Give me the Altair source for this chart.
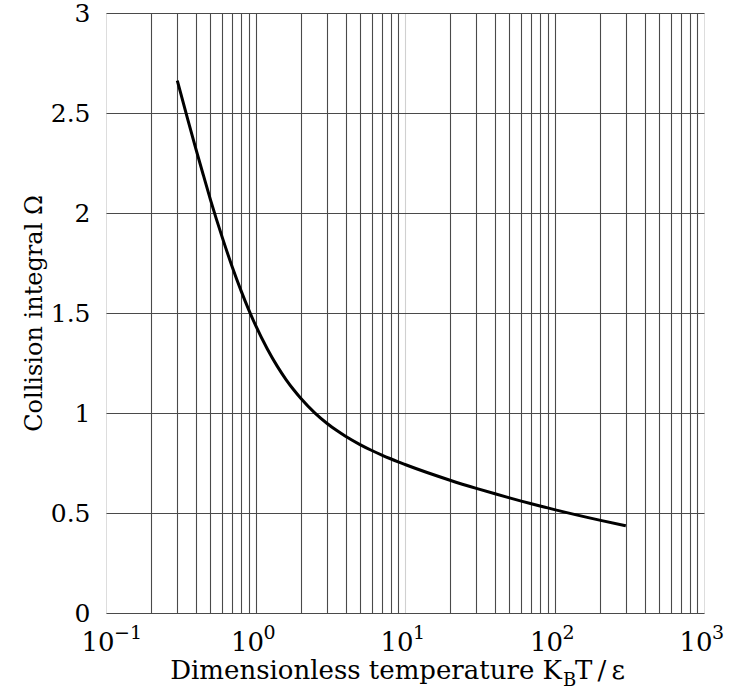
import altair as alt
import pandas as pd

# Curve values
temps = [0.3, 0.35, 0.4, 0.45, 0.5, 0.6, 0.7, 0.8, 0.9, 1.0, 1.2, 1.4, 1.6, 1.8, 2.0,
         2.5, 3, 3.5, 4, 5, 6, 7, 8, 9, 10, 20, 30, 40, 50, 60, 70, 80, 90, 100, 200, 300]
omega = [2.662, 2.476, 2.318, 2.184, 2.066, 1.877, 1.729, 1.612, 1.517, 1.439, 1.320,
         1.233, 1.167, 1.116, 1.075, 0.9996, 0.949, 0.912, 0.8836, 0.8422, 0.8124,
         0.7896, 0.7712, 0.7556, 0.7424, 0.664, 0.6232, 0.596, 0.5756, 0.5596, 0.5464,
         0.5352, 0.5256, 0.517, 0.4644, 0.436]

# Tick labels
decade_values = [0.1, 1, 10, 100, 1000]
decade_base = ["10", "10", "10", "10", "10"]
decade_exp = ["\u22121", "0", "1", "2", "3"]
y_ticks = [0, 0.5, 1, 1.5, 2, 2.5, 3]
grid_x = [k * d for d in [0.1, 1, 10, 100] for k in range(1, 10)][1:]

x_title_parts = ["Dimensionless temperature K", "B", "T\u2009/\u2009\u03b5"]
y_title = "Collision integral \u03a9"

W, H = 598, 600
FONT = "'DejaVu Serif', serif"

xscale = alt.Scale(type="log", domain=[0.1, 1000], nice=False)
yscale = alt.Scale(domain=[0, 3], nice=False)

curve_df = pd.DataFrame({"T": temps, "O": omega})
lab_df = pd.DataFrame({"v": decade_values, "b": decade_base, "e": decade_exp})

curve = alt.Chart(curve_df).mark_line(color="black", strokeWidth=3, interpolate="monotone").encode(
    x=alt.X("T:Q", scale=xscale,
            axis=alt.Axis(values=grid_x, labels=False, ticks=False, domain=False, title=None,
                          grid=True,
                          gridColor={"condition": {"test": "datum.value == 10", "value": "#d0d0d0"},
                                     "value": "#4a4a4a"},
                          gridWidth=1.1, gridOpacity=1)),
    y=alt.Y("O:Q", scale=yscale,
            axis=alt.Axis(values=y_ticks, format="~g", ticks=False, domain=False,
                          grid=True, gridColor="#4a4a4a", gridWidth=1.1, gridOpacity=1,
                          labelFont=FONT, labelFontSize=25, labelColor="black",
                          labelPadding=16, title=y_title, titleFont=FONT,
                          titleFontSize=24, titleFontWeight="normal", titleColor="black",
                          titlePadding=4)),
)

base_lab = alt.Chart(lab_df).mark_text(font=FONT, fontSize=26, baseline="alphabetic",
                                        align="center", dx=-8, color="black").encode(
    x=alt.X("v:Q", scale=xscale), y=alt.value(H + 38), text="b:N")
exp_lab = alt.Chart(lab_df).mark_text(font=FONT, fontSize=19, baseline="alphabetic",
                                       align="left", dx=8, color="black").encode(
    x=alt.X("v:Q", scale=xscale), y=alt.value(H + 26), text="e:N")

t_df = pd.DataFrame({"t": x_title_parts})
t1 = alt.Chart(t_df.iloc[[0]]).mark_text(font=FONT, fontSize=26, align="right",
                                         baseline="alphabetic", color="black").encode(
    x=alt.value(456), y=alt.value(666), text="t:N")
t2 = alt.Chart(t_df.iloc[[1]]).mark_text(font=FONT, fontSize=18, align="left",
                                         baseline="alphabetic", color="black").encode(
    x=alt.value(457), y=alt.value(673), text="t:N")
t3 = alt.Chart(t_df.iloc[[2]]).mark_text(font=FONT, fontSize=26, align="left",
                                         baseline="alphabetic", color="black").encode(
    x=alt.value(469), y=alt.value(666), text="t:N")

chart = alt.layer(curve, base_lab, exp_lab, t1, t2, t3).properties(
    width=W, height=H,
    autosize=alt.AutoSizeParams(type="none"),
    padding={"left": 106, "top": 13, "right": 25, "bottom": 84},
).configure_view(stroke="black", strokeWidth=2).configure(background="white")

chart.save("out.html", embed_options={"renderer": "svg", "actions": False})
